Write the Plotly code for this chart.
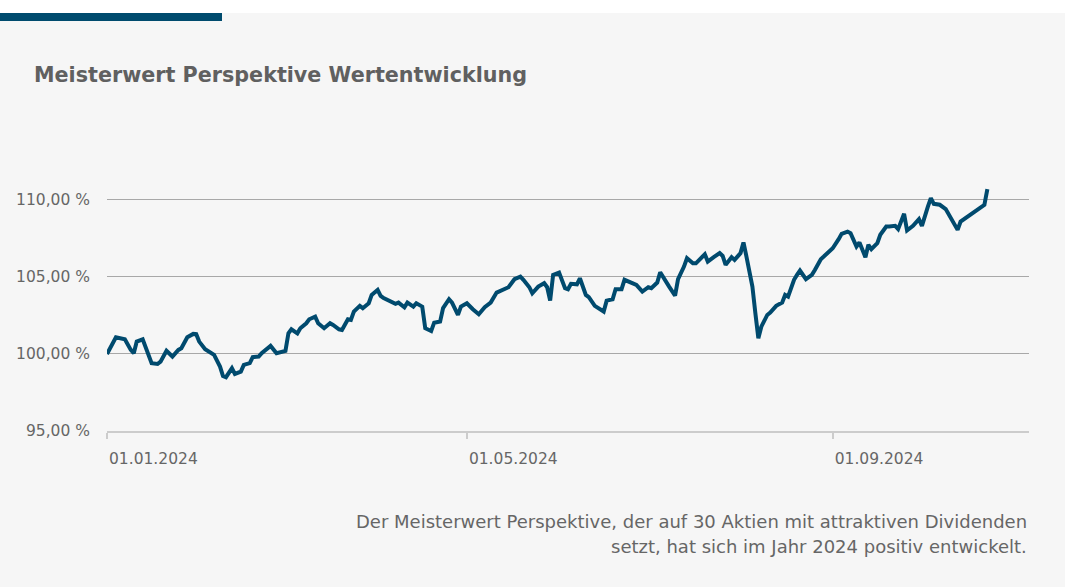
import plotly.graph_objects as go

dates = [
 "2024-01-01","2024-01-04","2024-01-07","2024-01-09","2024-01-10","2024-01-11","2024-01-13","2024-01-14",
 "2024-01-16","2024-01-18","2024-01-19","2024-01-21","2024-01-22","2024-01-23","2024-01-25","2024-01-26",
 "2024-01-28","2024-01-30","2024-01-31","2024-02-01","2024-02-03","2024-02-05","2024-02-06","2024-02-08",
 "2024-02-09","2024-02-10","2024-02-12","2024-02-13","2024-02-15","2024-02-16","2024-02-18","2024-02-19",
 "2024-02-21","2024-02-22","2024-02-23","2024-02-25","2024-02-27","2024-02-29","2024-03-01","2024-03-02",
 "2024-03-03","2024-03-05","2024-03-06","2024-03-08","2024-03-09","2024-03-11","2024-03-12","2024-03-14",
 "2024-03-16","2024-03-17","2024-03-19","2024-03-20","2024-03-22","2024-03-23","2024-03-24","2024-03-26",
 "2024-03-27","2024-03-29","2024-03-30","2024-04-01","2024-04-02","2024-04-03","2024-04-05","2024-04-07",
 "2024-04-08","2024-04-10","2024-04-11","2024-04-13","2024-04-14","2024-04-16","2024-04-17","2024-04-19",
 "2024-04-20","2024-04-22","2024-04-23","2024-04-25","2024-04-26","2024-04-28","2024-04-29","2024-05-01",
 "2024-05-03","2024-05-05","2024-05-07","2024-05-09","2024-05-11","2024-05-13","2024-05-15","2024-05-17",
 "2024-05-19","2024-05-20","2024-05-22","2024-05-23","2024-05-25","2024-05-27","2024-05-28","2024-05-29",
 "2024-05-30","2024-06-01","2024-06-03","2024-06-04","2024-06-05","2024-06-07","2024-06-08","2024-06-10",
 "2024-06-11","2024-06-13","2024-06-15","2024-06-16","2024-06-17","2024-06-19","2024-06-20","2024-06-22",
 "2024-06-23","2024-06-25","2024-06-27","2024-06-29","2024-07-01","2024-07-02","2024-07-04","2024-07-05",
 "2024-07-07","2024-07-08","2024-07-10","2024-07-11","2024-07-13","2024-07-14","2024-07-16","2024-07-17",
 "2024-07-20","2024-07-21","2024-07-23","2024-07-25","2024-07-26","2024-07-27","2024-07-29","2024-07-30",
 "2024-08-01","2024-08-02","2024-08-03","2024-08-05","2024-08-06","2024-08-07","2024-08-08","2024-08-10",
 "2024-08-11","2024-08-13","2024-08-15","2024-08-16","2024-08-17","2024-08-19","2024-08-20","2024-08-21",
 "2024-08-23","2024-08-25","2024-08-26","2024-08-28","2024-08-29","2024-08-31","2024-09-01","2024-09-03",
 "2024-09-04","2024-09-06","2024-09-07","2024-09-09","2024-09-10","2024-09-12","2024-09-13","2024-09-14",
 "2024-09-16","2024-09-17","2024-09-19","2024-09-20","2024-09-22","2024-09-23","2024-09-25","2024-09-26",
 "2024-09-28","2024-09-30","2024-10-01","2024-10-03","2024-10-04","2024-10-05","2024-10-07","2024-10-09",
 "2024-10-11","2024-10-13","2024-10-14","2024-10-16","2024-10-18","2024-10-20","2024-10-22","2024-10-23",
]

values = [
 100.00,101.08,100.95,100.26,100.05,100.80,100.95,100.47,
 99.40,99.35,99.50,100.20,100.05,99.83,100.26,100.37,
 101.08,101.30,101.28,100.80,100.30,100.09,99.94,99.18,
 98.57,98.49,99.07,98.70,98.85,99.29,99.40,99.79,
 99.83,100.05,100.19,100.52,100.05,100.15,100.20,101.34,
 101.60,101.34,101.67,101.99,102.25,102.42,101.99,101.67,
 101.99,101.88,101.60,101.56,102.25,102.21,102.75,103.12,
 102.97,103.29,103.83,104.16,103.77,103.62,103.46,103.25,
 103.33,103.03,103.33,103.07,103.29,103.07,101.67,101.49,
 102.03,102.10,102.97,103.55,103.33,102.53,103.07,103.29,
 102.90,102.58,103.03,103.33,103.98,104.16,104.33,104.85,
 105.02,104.81,104.33,103.94,104.37,104.59,104.33,103.46,
 105.13,105.28,104.27,104.20,104.55,104.52,104.91,103.83,
 103.68,103.12,102.86,102.75,103.46,103.55,104.20,104.20,
 104.81,104.63,104.48,104.05,104.33,104.27,104.63,105.30,
 104.63,104.37,103.79,104.85,105.67,106.21,105.88,105.88,
 106.47,105.99,106.28,106.54,106.36,105.78,106.28,106.10,
 106.54,107.23,106.32,104.37,102.64,101.02,101.77,102.53,
 102.68,103.12,103.33,103.83,103.72,104.81,105.13,105.41,
 104.85,105.13,105.45,106.15,106.32,106.64,106.86,107.45,
 107.79,107.94,107.84,106.97,107.23,106.28,107.08,106.80,
 107.19,107.73,108.27,108.27,108.31,108.10,109.09,108.01,
 108.31,108.75,108.31,109.56,110.11,109.74,109.68,109.40,
 108.75,108.05,108.59,108.87,109.17,109.40,109.68,110.70,
]

y_ticks = [95, 100, 105, 110]
y_tick_labels = ["95,00 %", "100,00 %", "105,00 %", "110,00 %"]
x_ticks = ["2024-01-01", "2024-05-01", "2024-09-01"]
x_tick_labels = ["01.01.2024", "01.05.2024", "01.09.2024"]

title_text = "Meisterwert Perspektive Wertentwicklung"
footer_lines = [
    "Der Meisterwert Perspektive, der auf 30 Aktien mit attraktiven Dividenden",
    "setzt, hat sich im Jahr 2024 positiv entwickelt.",
]

FONT = "DejaVu Sans"
BG = "#f6f6f6"
LINE = "#004a6e"

fig = go.Figure()
fig.add_trace(go.Scatter(
    x=dates, y=values, mode="lines",
    line=dict(color=LINE, width=4),
    hoverinfo="skip", showlegend=False,
))

W, H = 1065, 587
L, R, T, B = 107, 36, 169, 156
pw, ph = W - L - R, H - T - B

def px_x(p):
    return (p - L) / pw

def px_y(p):
    return (H - B - p) / ph

fig.update_layout(
    width=W, height=H,
    margin=dict(l=L, r=R, t=T, b=B, pad=0),
    paper_bgcolor=BG, plot_bgcolor=BG,
    font=dict(family=FONT, color="#666666"),
    hovermode=False,
    title=dict(
        text=title_text, x=34 / W, xanchor="left", xref="container",
        y=1 - 75 / H, yanchor="middle", yref="container",
        font=dict(family=FONT, size=20.7, color="#606060", weight="bold"),
    ),
    xaxis=dict(
        type="date", range=["2024-01-01", "2024-11-06"],
        tickvals=x_ticks, ticktext=x_tick_labels,
        ticklabelposition="outside right",
        ticks="outside", ticklen=6, tickcolor="#cccccc", tickwidth=2,
        showgrid=False, showline=True, linecolor="#cccccc", linewidth=2,
        zeroline=False, tickfont=dict(size=15.5, color="#666666"),
        ticklabelstandoff=12, fixedrange=True,
    ),
    yaxis=dict(
        range=[95, 112], tickvals=y_ticks, ticktext=y_tick_labels,
        showgrid=True, gridcolor="#a8a8a8", gridwidth=1,
        zeroline=False, showline=False, ticks="",
        tickfont=dict(size=15.5, color="#666666"),
        ticklabelstandoff=16, fixedrange=True,
    ),
    shapes=[
        dict(type="rect", xref="paper", yref="paper",
             x0=px_x(-5), x1=px_x(W + 5), y0=px_y(13), y1=px_y(-5),
             fillcolor="#ffffff", line=dict(width=0), layer="below"),
        dict(type="rect", xref="paper", yref="paper",
             x0=px_x(-5), x1=px_x(222), y0=px_y(21), y1=px_y(13),
             fillcolor="#004b6e", line=dict(width=0), layer="below"),
    ],
    annotations=[
        dict(text=footer_lines[0], xref="paper", yref="paper",
             x=1, y=px_y(521), xanchor="right", yanchor="middle",
             showarrow=False, font=dict(family=FONT, size=18, color="#666666")),
        dict(text=footer_lines[1], xref="paper", yref="paper",
             x=1, y=px_y(546), xanchor="right", yanchor="middle",
             showarrow=False, font=dict(family=FONT, size=18, color="#666666")),
    ],
)

fig.write_html(
    "out.html",
    config={"displayModeBar": False},
    post_script="document.body.style.margin='0';document.body.style.overflow='hidden';",
)
